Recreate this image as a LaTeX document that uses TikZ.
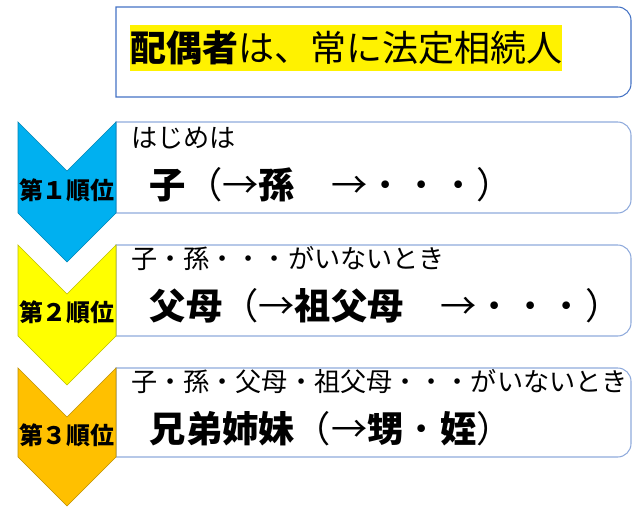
\documentclass[tikz,border=0pt]{standalone}
\usepackage{fontspec}
\setmainfont{Noto Sans CJK JP}
\usepackage{xcolor}
\usetikzlibrary{positioning}

\definecolor{rankblue}{HTML}{00B0F0}
\definecolor{rankyellow}{HTML}{FFFF00}
\definecolor{rankorange}{HTML}{FFC000}
\definecolor{topframe}{HTML}{4472C4}
\definecolor{boxframe}{HTML}{8FAADC}

\begin{document}
\begin{tikzpicture}[
    x=0.75pt, y=-0.75pt,
    node distance=11.5pt,
    frame/.style={draw=#1, line width=0.8pt},
    chev/.style={fill=#1, draw=#1!75!black, line width=0.5pt},
    rank/.style={inner sep=0pt, font=\bfseries\fontsize{18}{18}\selectfont},
    cond/.style={anchor=west, inner sep=0pt, text height=17.2pt, text depth=2.4pt, font=\fontsize{19.6}{19.6}\selectfont},
    heir/.style={inner sep=0pt, text height=23.8pt, text depth=3.2pt, font=\fontsize{27.2}{27.2}\selectfont},
    spouse/.style={anchor=west, fill=yellow, inner sep=0pt, text height=27pt, text depth=7.5pt, font=\fontsize{27}{27}\selectfont}
]
    \useasboundingbox (0,0) rectangle (644,511);

    % Spouse
    \draw[frame=topframe] (116,97) -- (116,7) [rounded corners=10pt] -- (631,7) -- (631,97) [sharp corners] -- cycle;
    \node[spouse] (spouse) at (130,48) {{\bfseries 配偶者}は、常に法定相続人};

    % Boxes
    \draw[frame=boxframe] (116,213) -- (116,122) [rounded corners=10pt] -- (631,122) -- (631,213) [sharp corners] -- cycle;
    \draw[frame=boxframe] (116,336) -- (116,245) [rounded corners=10pt] -- (631,245) -- (631,336) [sharp corners] -- cycle;
    \draw[frame=boxframe] (116,457) -- (116,368) [rounded corners=10pt] -- (631,368) -- (631,457) [sharp corners] -- cycle;

    % Chevrons
    \draw[chev=rankblue] (18,122) -- (67,171) -- (116,122) -- (116,213) -- (67,262) -- (18,213) -- cycle;
    \draw[chev=rankyellow] (18,245) -- (67,294) -- (116,245) -- (116,336) -- (67,385) -- (18,336) -- cycle;
    \draw[chev=rankorange] (18,368) -- (67,417) -- (116,368) -- (116,457) -- (67,506) -- (18,457) -- cycle;

    % First rank
    \node[rank] (rank1) at (67,190) {第１順位};
    \node[cond] (cond1) at (131,138) {はじめは};
    \node[heir, below=of cond1.south west, anchor=north west, xshift=14pt] (heir1) {{\bfseries 子}（→{\bfseries 孫}　→・・・）};

    % Second rank
    \node[rank] (rank2) at (67,312) {第２順位};
    \node[cond] (cond2) at (131,259) {子・孫・・・がいないとき};
    \node[heir, below=of cond2.south west, anchor=north west, xshift=14pt] (heir2) {{\bfseries 父母}（→{\bfseries 祖父母}　→・・・）};

    % Third rank
    \node[rank] (rank3) at (67,435) {第３順位};
    \node[cond] (cond3) at (131,382) {子・孫・父母・祖父母・・・がいないとき};
    \node[heir, below=of cond3.south west, anchor=north west, xshift=14pt] (heir3) {{\bfseries 兄弟姉妹}（→{\bfseries 甥}・{\bfseries 姪}）};

\end{tikzpicture}
\end{document}
